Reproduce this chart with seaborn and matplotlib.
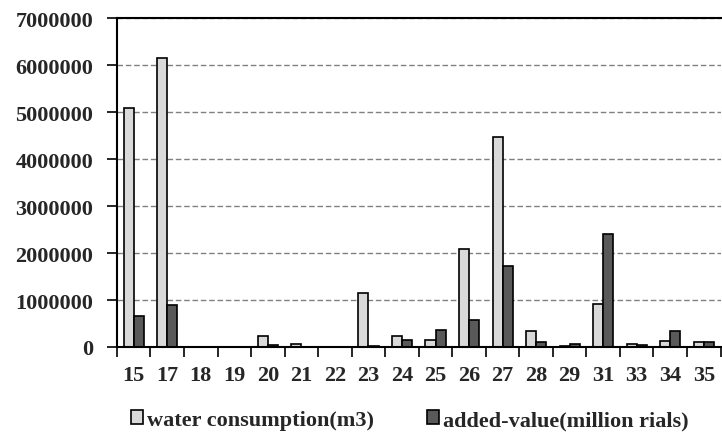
import numpy as np
import pandas as pd
import matplotlib
matplotlib.use("Agg")
import matplotlib.pyplot as plt
import seaborn as sns
from matplotlib.ticker import FixedLocator, FuncFormatter

# data
sectors = ['15', '17', '18', '19', '20', '21', '22', '23', '24',
           '25', '26', '27', '28', '29', '31', '33', '34', '35']
water = [5080000, 6150000, 8000, 8000, 230000, 55000, 8000, 1150000, 230000,
         150000, 2090000, 4460000, 350000, 25000, 910000, 70000, 120000, 100000]
added = [660000, 900000, 5000, 5000, 35000, 10000, 5000, 30000, 155000,
         370000, 580000, 1730000, 100000, 60000, 2410000, 40000, 330000, 100000]
series_names = ['water consumption(m3)', 'added-value(million rials)']

df = pd.DataFrame({
    'sector': sectors * 2,
    'value': water + added,
    'series': [series_names[0]] * len(sectors) + [series_names[1]] * len(sectors),
})

sns.set_style("white")
plt.rcParams['font.family'] = ['Liberation Serif', 'DejaVu Serif']
plt.rcParams['font.weight'] = 'bold'

fig = plt.figure(figsize=(7.22, 4.35), dpi=100)
ax = fig.add_axes([0.162, 0.2, 0.836, 0.756])

sns.barplot(data=df, x='sector', y='value', hue='series', order=sectors,
            hue_order=series_names, palette=['#d9d9d9', '#595959'],
            width=0.6, edgecolor='black', linewidth=1.2, saturation=1,
            ax=ax)

ax.set_ylim(0, 7000000)
ax.set_xlim(-0.5, len(sectors) - 0.5)
ax.set_yticks(np.arange(0, 7000001, 1000000))
ax.yaxis.set_major_formatter(FuncFormatter(lambda v, p: f"{int(v)}"))
ax.yaxis.grid(True, linestyle=(0, (4, 2)), color='#808080', linewidth=1)
ax.set_axisbelow(True)
ax.set_xlabel('')
ax.set_ylabel('')

# x ticks sit between categories
ax.tick_params(axis='x', which='major', length=0, pad=13)
ax.xaxis.set_minor_locator(FixedLocator(np.arange(-0.5, len(sectors), 1.0)))
ax.tick_params(axis='x', which='minor', length=7, width=1.2, color='black',
               direction='out', bottom=True)
ax.tick_params(axis='y', length=7, width=1.2, color='black', direction='out',
               left=True, pad=10)
for lab in ax.get_xticklabels() + ax.get_yticklabels():
    lab.set_fontweight('bold')
    lab.set_fontsize(16)

for s in ['left', 'bottom', 'top']:
    ax.spines[s].set_color('black')
    ax.spines[s].set_linewidth(1.5)
ax.spines['right'].set_visible(False)

handles, labels = ax.get_legend_handles_labels()
ax.legend(handles, labels, loc='center', bbox_to_anchor=(0.485, -0.222),
          ncol=2, frameon=False, handlelength=0.55, handleheight=0.55,
          handletextpad=0.15, columnspacing=2.4,
          prop={'weight': 'bold', 'size': 16})

fig.savefig('out.png', dpi=100)
